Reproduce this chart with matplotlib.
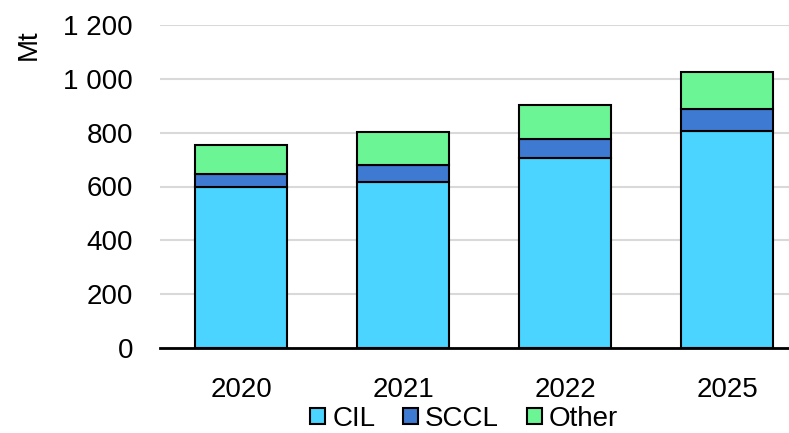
import numpy as np
import matplotlib
matplotlib.use("Agg")
import matplotlib.pyplot as plt
from matplotlib.ticker import FuncFormatter

years = ["2020", "2021", "2022", "2025"]
cil = [597, 615, 706, 807]
sccl = [50, 64, 71, 80]
other = [108, 125, 124, 139]

plt.rcParams['font.family'] = ['Liberation Sans', 'DejaVu Sans']

fig = plt.figure(figsize=(7.89, 4.33), dpi=100)
W, H = 789, 433
ax = fig.add_axes([160 / W, 1 - 348 / H, (789 - 160) / W, (348 - 25) / H])

x = np.arange(len(years))
width = 0.574
ec = dict(edgecolor="black", linewidth=1.5, zorder=3)
ax.bar(x, cil, width, color="#4ad4ff", label="CIL", **ec)
ax.bar(x, sccl, width, bottom=cil, color="#3f7ad2", label="SCCL", **ec)
bottom2 = np.array(cil) + np.array(sccl)
ax.bar(x, other, width, bottom=bottom2, color="#6bf595", label="Other", **ec)

ax.set_ylim(0, 1200)
ax.set_xlim(-0.5, -0.5 + 629 / 162)
ax.set_yticks(range(0, 1201, 200))
ax.yaxis.set_major_formatter(FuncFormatter(lambda v, p: f"{int(v):,}".replace(",", " ")))
ax.set_xticks(x)
ax.set_xticklabels(years)
ax.tick_params(axis="both", length=0, labelsize=20)
ax.tick_params(axis="y", pad=19.5)
ax.tick_params(axis="x", pad=21)

ax.grid(axis="y", color="#d9d9d9", linewidth=1.5, zorder=0)
ax.set_axisbelow(True)
for s in ["top", "right", "left"]:
    ax.spines[s].set_visible(False)
ax.spines["bottom"].set_linewidth(2)
ax.spines["bottom"].set_zorder(4)

fig.text(29 / W, 1 - 45 / H, "Mt", rotation=90, fontsize=20, ha="center", va="center")

fig.legend(loc="center", bbox_to_anchor=(464 / W, 1 - 419 / H), ncol=3, frameon=False,
           fontsize=20, handlelength=0.54, handleheight=0.54, handletextpad=0.25,
           columnspacing=1.0, borderaxespad=0, borderpad=0)

fig.savefig("out.png", dpi=100)
